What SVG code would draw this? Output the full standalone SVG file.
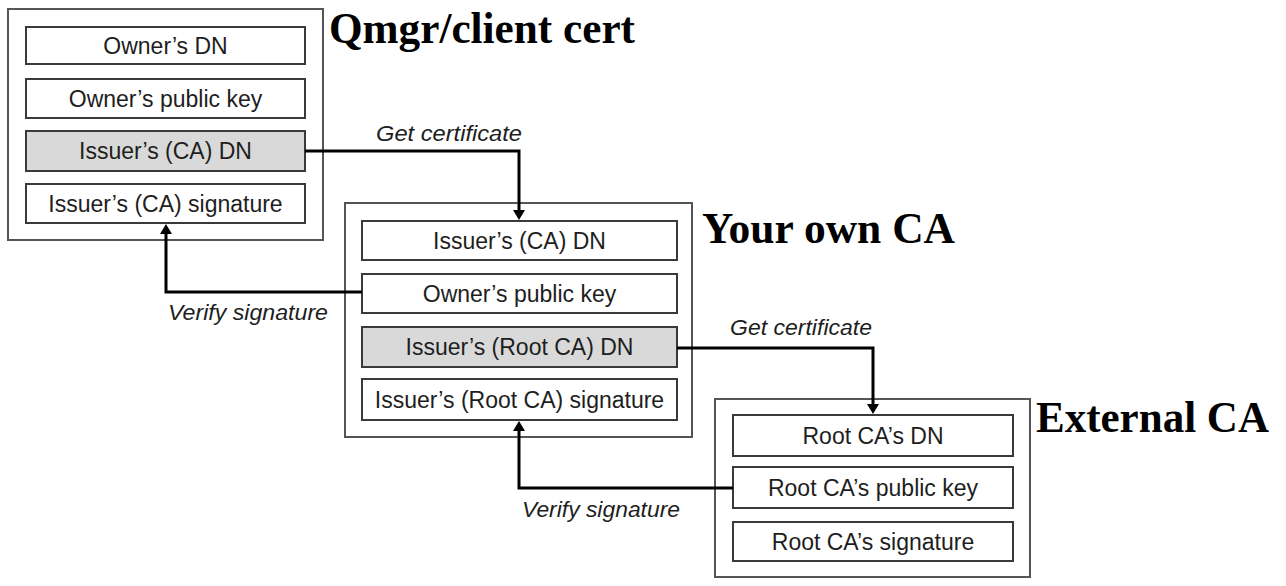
<svg xmlns="http://www.w3.org/2000/svg" width="1286" height="586" viewBox="0 0 1286 586">
<style>
.outer{fill:none;stroke:#555;stroke-width:2}
.row{fill:#fff;stroke:#3a3a3a;stroke-width:2}
.row.shade{fill:#d9d9d9}
.rt{font-family:"Liberation Sans",Arial,sans-serif;font-size:23px;fill:#1e1e1e;text-anchor:middle}
.title{font-family:"Liberation Serif","Times New Roman",serif;font-weight:bold;font-size:44px;fill:#000}
.lbl{font-family:"Liberation Sans",Arial,sans-serif;font-style:italic;font-size:22px;fill:#1e1e1e}
.conn{fill:none;stroke:#000;stroke-width:3}
</style>
<defs>
<marker id="arr" viewBox="0 0 10 12" markerWidth="10" markerHeight="12" refX="0" refY="6" orient="auto" markerUnits="userSpaceOnUse">
<path d="M0,0 L10,6 L0,12 z" fill="#000"/>
</marker>
</defs>
<rect width="1286" height="586" fill="#fff"/>

<g id="qmgr-cert">
<rect class="outer" x="8" y="9" width="315" height="231"/>
<text class="title" x="329" y="43" textLength="306" lengthAdjust="spacingAndGlyphs">Qmgr/client cert</text>
<g id="qmgr-owner-dn"><rect class="row" x="26" y="27" width="279" height="37"/><text class="rt" x="165.5" y="53.5">Owner’s DN</text></g>
<g id="qmgr-owner-key"><rect class="row" x="26" y="79" width="279" height="39"/><text class="rt" x="165.5" y="106.5">Owner’s public key</text></g>
<g id="qmgr-issuer-dn"><rect class="row shade" x="26" y="131" width="279" height="40"/><text class="rt" x="165.5" y="159">Issuer’s (CA) DN</text></g>
<g id="qmgr-issuer-sig"><rect class="row" x="26" y="184" width="279" height="39"/><text class="rt" x="165.5" y="211.5">Issuer’s (CA) signature</text></g>
</g>

<g id="own-ca">
<rect class="outer" x="345" y="203" width="347" height="234"/>
<text class="title" x="702" y="243" textLength="253" lengthAdjust="spacingAndGlyphs">Your own CA</text>
<g id="own-issuer-dn"><rect class="row" x="362" y="221" width="315" height="39"/><text class="rt" x="519.5" y="248.5">Issuer’s (CA) DN</text></g>
<g id="own-owner-key"><rect class="row" x="362" y="274" width="315" height="39"/><text class="rt" x="519.5" y="301.5">Owner’s public key</text></g>
<g id="own-root-dn"><rect class="row shade" x="362" y="327" width="315" height="40"/><text class="rt" x="519.5" y="355">Issuer’s (Root CA) DN</text></g>
<g id="own-root-sig"><rect class="row" x="362" y="379" width="315" height="41"/><text class="rt" x="519.5" y="407.5">Issuer’s (Root CA) signature</text></g>
</g>

<g id="external-ca">
<rect class="outer" x="715" y="399" width="315" height="178"/>
<text class="title" x="1036" y="432" textLength="233" lengthAdjust="spacingAndGlyphs">External CA</text>
<g id="ext-root-dn"><rect class="row" x="733" y="415" width="280" height="41"/><text class="rt" x="873" y="443.5">Root CA’s DN</text></g>
<g id="ext-root-key"><rect class="row" x="733" y="467" width="280" height="41"/><text class="rt" x="873" y="495.5">Root CA’s public key</text></g>
<g id="ext-root-sig"><rect class="row" x="733" y="522" width="280" height="39"/><text class="rt" x="873" y="549.5">Root CA’s signature</text></g>
</g>

<g id="connectors">
<path class="conn" d="M305,151 H519 V210" marker-end="url(#arr)"/>
<text class="lbl" x="376" y="141" textLength="146" lengthAdjust="spacingAndGlyphs">Get certificate</text>
<path class="conn" d="M362,292 H166 V234" marker-end="url(#arr)"/>
<text class="lbl" x="168" y="320" textLength="160" lengthAdjust="spacingAndGlyphs">Verify signature</text>
<path class="conn" d="M677,348 H873 V404" marker-end="url(#arr)"/>
<text class="lbl" x="730" y="335" textLength="142" lengthAdjust="spacingAndGlyphs">Get certificate</text>
<path class="conn" d="M733,488 H519 V431" marker-end="url(#arr)"/>
<text class="lbl" x="522" y="517" textLength="158" lengthAdjust="spacingAndGlyphs">Verify signature</text>
</g>
</svg>
